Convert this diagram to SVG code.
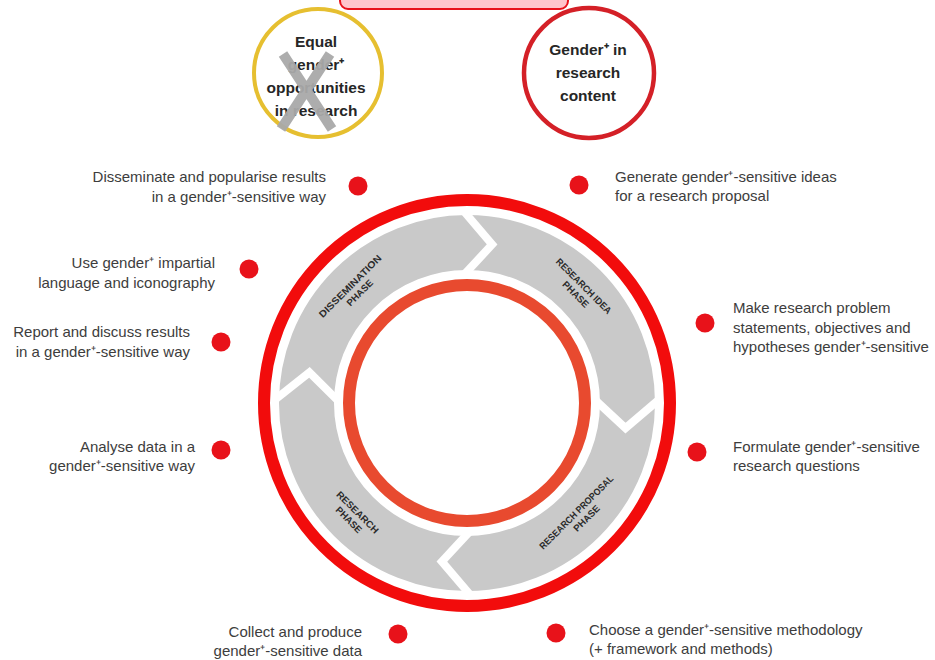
<svg xmlns="http://www.w3.org/2000/svg" width="935" height="660" viewBox="0 0 935 660">
<style>
.lbl{font-family:"Liberation Sans",Arial,sans-serif;font-size:15px;fill:#3d3d3d}
.r{text-anchor:end}
.ph{font-family:"Liberation Sans",Arial,sans-serif;font-size:9.5px;font-weight:bold;fill:#2b2b2b;text-anchor:middle}
.ct{font-family:"Liberation Sans",Arial,sans-serif;font-size:15.5px;font-weight:bold;fill:#262626;text-anchor:middle}
.dot{fill:#e8121a}
.sep{fill:none;stroke:#fff;stroke-width:8;stroke-linejoin:miter}
</style>
<rect width="935" height="660" fill="#fff"/>
<g id="top-box">
<rect x="340" y="-20" width="228" height="29" rx="8" fill="#ffc4cb" stroke="#e8101a" stroke-width="2"/>
</g>
<g id="equal-opportunities">
<circle cx="318" cy="73" r="64" fill="#fff" stroke="#e6bf30" stroke-width="4"/>
<text class="ct" x="316" y="47">Equal</text>
<text class="ct" x="316" y="70">gender⁺</text>
<text class="ct" x="316" y="93">opportunities</text>
<text class="ct" x="316" y="116">in research</text>
<path d="M283 54 L332 129 M330 54 L281 129" stroke="#a9a9a9" stroke-width="10" fill="none" opacity="0.95"/>
</g>
<g id="research-content">
<circle cx="589" cy="73" r="65" fill="#fff" stroke="#d42027" stroke-width="4.5"/>
<text class="ct" x="588" y="55">Gender⁺ in</text>
<text class="ct" x="588" y="78">research</text>
<text class="ct" x="588" y="101">content</text>
</g>
<g id="cycle">
<circle cx="467" cy="403" r="203" fill="none" stroke="#f20c0c" stroke-width="12"/>
<circle cx="467" cy="403" r="160.5" fill="none" stroke="#c9c9c9" stroke-width="55"/>
<circle cx="467" cy="403" r="118" fill="none" stroke="#e84a2f" stroke-width="12"/>
<polyline class="sep" points="658.97,399.65 625.52,428.11 595.98,400.75"/>
<polyline class="sep" points="470.35,594.97 441.89,561.52 469.25,531.98"/>
<polyline class="sep" points="275.03,399.65 309.45,372.37 338.02,400.75"/>
<polyline class="sep" points="463.65,211.03 492.11,244.48 464.75,274.02"/>
</g>
<g id="phase-dissemination" transform="translate(353.9,289.9) rotate(-45)">
<text class="ph" x="0" y="-2" textLength="84" lengthAdjust="spacingAndGlyphs">DISSEMINATION</text>
<text class="ph" x="2" y="9.5">PHASE</text>
</g>
<g id="phase-idea" transform="translate(580.1,289.9) rotate(45)">
<text class="ph" x="0" y="-2" textLength="74" lengthAdjust="spacingAndGlyphs">RESEARCH IDEA</text>
<text class="ph" x="0" y="9.5">PHASE</text>
</g>
<g id="phase-proposal" transform="translate(580.1,516.1) rotate(-45)">
<text class="ph" x="0" y="-2" textLength="100" lengthAdjust="spacingAndGlyphs">RESEARCH PROPOSAL</text>
<text class="ph" x="3" y="9.5">PHASE</text>
</g>
<g id="phase-research" transform="translate(353.9,516.1) rotate(45)">
<text class="ph" x="0" y="-2" textLength="55" lengthAdjust="spacingAndGlyphs">RESEARCH</text>
<text class="ph" x="-1" y="9.5">PHASE</text>
</g>
<g id="connectors"></g>
<g id="step-disseminate">
<circle class="dot" cx="358" cy="186" r="9.5"/>
<text class="lbl r" x="326" y="182">Disseminate and popularise results</text>
<text class="lbl r" x="326" y="201.5">in a gender⁺-sensitive way</text>
</g>
<g id="step-language">
<circle class="dot" cx="249" cy="269" r="9.5"/>
<text class="lbl r" x="215" y="268">Use gender⁺ impartial</text>
<text class="lbl r" x="215" y="287.5">language and iconography</text>
</g>
<g id="step-report">
<circle class="dot" cx="221" cy="342" r="9.5"/>
<text class="lbl r" x="190" y="337">Report and discuss results</text>
<text class="lbl r" x="190" y="356.5">in a gender⁺-sensitive way</text>
</g>
<g id="step-analyse">
<circle class="dot" cx="221" cy="450" r="9.5"/>
<text class="lbl r" x="195" y="452">Analyse data in a</text>
<text class="lbl r" x="195" y="471">gender⁺-sensitive way</text>
</g>
<g id="step-collect">
<circle class="dot" cx="398" cy="634" r="9.5"/>
<text class="lbl r" x="362" y="636.5">Collect and produce</text>
<text class="lbl r" x="362" y="656">gender⁺-sensitive data</text>
</g>
<g id="step-generate">
<circle class="dot" cx="579" cy="185" r="9.5"/>
<text class="lbl" x="615" y="182">Generate gender⁺-sensitive ideas</text>
<text class="lbl" x="615" y="201">for a research proposal</text>
</g>
<g id="step-problem">
<circle class="dot" cx="705" cy="323" r="9.5"/>
<text class="lbl" x="733" y="313">Make research problem</text>
<text class="lbl" x="733" y="332.5">statements, objectives and</text>
<text class="lbl" x="733" y="352">hypotheses gender⁺-sensitive</text>
</g>
<g id="step-questions">
<circle class="dot" cx="697" cy="452" r="9.5"/>
<text class="lbl" x="733" y="452">Formulate gender⁺-sensitive</text>
<text class="lbl" x="733" y="471">research questions</text>
</g>
<g id="step-methodology">
<circle class="dot" cx="556" cy="633" r="9.5"/>
<text class="lbl" x="589" y="635">Choose a gender⁺-sensitive methodology</text>
<text class="lbl" x="589" y="654">(+ framework and methods)</text>
</g>
</svg>
